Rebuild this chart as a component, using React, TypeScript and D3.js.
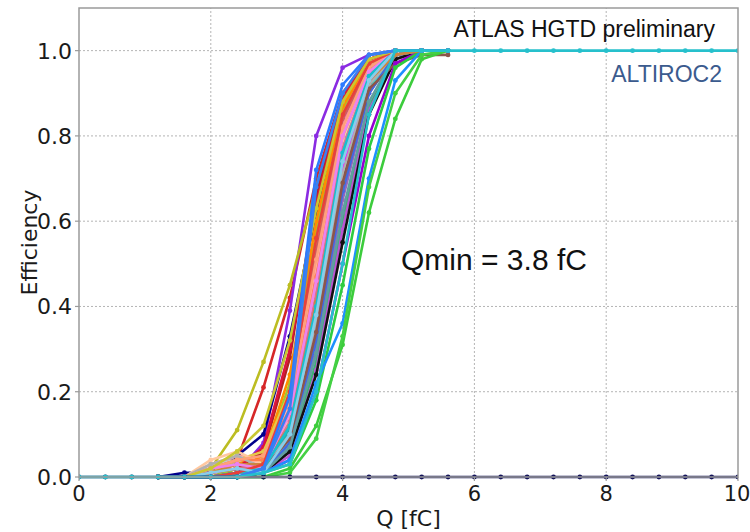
import React from 'react';
import * as d3 from 'd3';

// injected charge points (fC) for the turn-on region, and full scan for the two full channels
const chargeTurnOn = [1.2, 1.6, 2.0, 2.4, 2.8, 3.2, 3.6, 4.0, 4.4, 4.8, 5.2, 5.6];
const chargeFull = [0, 0.4, 0.8, 1.2, 1.6, 2.0, 2.4, 2.8, 3.2, 3.6, 4.0, 4.4, 4.8,
  5.2, 5.6, 6.0, 6.4, 6.8, 7.2, 7.6, 8.0, 8.4, 8.8, 9.2, 9.6, 10.0];

// efficiency per channel, read at chargeTurnOn
const channelEff: number[][] = [
  [0, 0, 0.01, 0.04, 0.21, 0.42, 0.7, 0.9, 0.98, 1, 1, 1],
  [0, 0, 0, 0.01, 0.08, 0.39, 0.8, 0.96, 0.99, 1, 1, 1],
  [0, 0, 0.02, 0.11, 0.27, 0.45, 0.68, 0.88, 0.97, 1, 1, 1],
  [0, 0.01, 0.01, 0.05, 0.1, 0.33, 0.62, 0.86, 0.97, 1, 1, 1],
  [0, 0, 0.02, 0.05, 0.04, 0.2, 0.5, 0.8, 0.95, 0.99, 1, 1],
  [0, 0, 0.03, 0.04, 0.02, 0.15, 0.47, 0.78, 0.95, 1, 1, 1],
  [0, 0, 0.01, 0.02, 0.03, 0.18, 0.52, 0.83, 0.96, 1, 1, 1],
  [0, 0, 0, 0.01, 0.02, 0.12, 0.44, 0.78, 0.95, 0.99, 1, 1],
  [0, 0, 0, 0.01, 0.02, 0.1, 0.35, 0.7, 0.92, 0.99, 1, 1],
  [0, 0, 0.02, 0.04, 0.05, 0.14, 0.4, 0.74, 0.93, 0.99, 1, 1],
  [0, 0, 0, 0.01, 0.01, 0.09, 0.38, 0.73, 0.93, 0.99, 1, 1],
  [0, 0, 0.01, 0.02, 0.02, 0.16, 0.49, 0.82, 0.96, 1, 1, 1],
  [0, 0, 0, 0.02, 0.06, 0.28, 0.66, 0.9, 0.98, 1, 1, 1],
  [0, 0, 0, 0.01, 0.01, 0.08, 0.33, 0.68, 0.91, 0.99, 1, 1],
  [0, 0, 0.02, 0.03, 0.03, 0.12, 0.42, 0.77, 0.94, 1, 1, 1],
  [0, 0, 0, 0.02, 0.04, 0.22, 0.58, 0.86, 0.97, 1, 1, 1],
  [0, 0, 0, 0.01, 0.01, 0.07, 0.3, 0.65, 0.9, 0.99, 1, 1],
  [0, 0, 0.03, 0.05, 0.03, 0.17, 0.5, 0.81, 0.96, 1, 1, 1],
  [0, 0, 0.01, 0.03, 0.05, 0.24, 0.6, 0.87, 0.97, 1, 1, 1],
  [0, 0, 0.02, 0.03, 0.02, 0.11, 0.4, 0.76, 0.94, 1, 1, 1],
  [0, 0, 0, 0.01, 0.02, 0.13, 0.45, 0.79, 0.95, 1, 1, 1],
  [0, 0, 0, 0, 0.01, 0.06, 0.27, 0.6, 0.87, 0.98, 1, 1],
  [0, 0, 0.01, 0.02, 0.07, 0.3, 0.64, 0.89, 0.98, 1, 1, 1],
  [0, 0, 0.01, 0.04, 0.06, 0.2, 0.55, 0.85, 0.97, 1, 1, 1],
  [0, 0, 0, 0.01, 0.02, 0.1, 0.37, 0.72, 0.93, 0.99, 1, 1],
  [0, 0, 0.04, 0.06, 0.03, 0.14, 0.44, 0.79, 0.95, 1, 1, 1],
  [0, 0, 0, 0, 0.01, 0.05, 0.25, 0.58, 0.86, 0.98, 1, 1],
  [0, 0, 0.01, 0.02, 0.03, 0.19, 0.53, 0.84, 0.96, 1, 1, 1],
  [0, 0, 0, 0.01, 0.02, 0.11, 0.39, 0.75, 0.94, 0.99, 1, 1],
  [0, 0, 0.02, 0.04, 0.04, 0.16, 0.47, 0.8, 0.95, 1, 1, 1],
  [0, 0, 0, 0, 0.01, 0.06, 0.24, 0.55, 0.85, 0.98, 1, 1],
  [0, 0, 0.03, 0.05, 0.02, 0.1, 0.36, 0.71, 0.92, 0.99, 1, 1],
  [0, 0, 0, 0.01, 0.01, 0.08, 0.32, 0.67, 0.9, 0.99, 1, 1],
  [0, 0, 0, 0.01, 0.02, 0.09, 0.34, 0.69, 0.91, 0.97, 0.99, 0.99],
  [0, 0, 0.01, 0.02, 0.02, 0.13, 0.43, 0.77, 0.94, 1, 1, 1],
  [0, 0, 0, 0, 0.01, 0.04, 0.2, 0.5, 0.8, 0.97, 1, 1],
  [0, 0, 0.02, 0.04, 0.05, 0.18, 0.51, 0.82, 0.96, 1, 1, 1],
  [0, 0, 0, 0.01, 0.01, 0.07, 0.29, 0.62, 0.88, 0.99, 1, 1],
  [0, 0, 0, 0, 0.01, 0.03, 0.18, 0.45, 0.77, 0.96, 1, 1],
  [0, 0, 0, 0, 0.01, 0.04, 0.22, 0.36, 0.7, 0.93, 1, 1],
  [0, 0, 0, 0, 0, 0.02, 0.12, 0.31, 0.62, 0.84, 0.98, 1],
  [0, 0, 0, 0, 0, 0.01, 0.09, 0.33, 0.68, 0.9, 0.99, 1],
  [0, 0, 0.01, 0.03, 0.03, 0.12, 0.41, 0.75, 0.93, 0.99, 1, 1],
  [0, 0, 0.02, 0.03, 0.02, 0.15, 0.46, 0.8, 0.95, 1, 1, 1],
  [0, 0, 0, 0.01, 0.02, 0.12, 0.4, 0.76, 0.94, 1, 1, 1],
  [0, 0, 0, 0.01, 0.03, 0.2, 0.56, 0.85, 0.97, 1, 1, 1],
  [0, 0, 0.01, 0.02, 0.01, 0.1, 0.38, 0.74, 0.93, 1, 1, 1],
  [0, 0, 0.02, 0.06, 0.12, 0.32, 0.63, 0.88, 0.98, 1, 1, 1],
  [0, 0, 0, 0, 0.02, 0.19, 0.72, 0.92, 0.99, 1, 1, 1],
  [0, 0, 0, 0, 0.02, 0.16, 0.68, 0.9, 0.99, 1, 1, 1],
];

const deadChannel = [0, 0, 0, 0, 0, 0, 0, 0, 0, 0, 0, 0, 0,
  0, 0, 0, 0, 0, 0, 0, 0, 0, 0, 0, 0, 0];
const lastChannel = [0, 0, 0, 0, 0, 0, 0, 0.01, 0.03, 0.2, 0.5, 0.85, 1,
  1, 1, 1, 1, 1, 1, 1, 1, 1, 1, 1, 1, 1];

const xTicks = [0, 2, 4, 6, 8, 10];
const yTicks = [0, 0.2, 0.4, 0.6, 0.8, 1.0];

const palette = [
  '#d62728', '#8a2be2', '#bcbd22', '#00008b', '#fa8072', '#c8c8c8', '#ff69b4', '#32cd32',
  '#000000', '#f4a460', '#6495ed', '#da70d6', '#b22222', '#40e0d0', '#d2b48c', '#9acd32',
  '#9467bd', '#ffb6c1', '#ff8c00', '#7f7f7f', '#00bfff', '#3cb371', '#dc143c', '#e6c84a',
  '#ff00ff', '#ffc8a0', '#ba55d3', '#cd5c5c', '#20b2aa', '#ff7f50', '#111111', '#b0b0b0',
  '#4169e1', '#8c564b', '#db7093', '#9400d3', '#ffa07a', '#5f9ea0', '#2ecc40', '#1e90ff',
  '#3ccc3c', '#44d044', '#cd853f', '#ee82ee', '#17becf', '#e8403a', '#87ceeb', '#c8c832',
  '#2b7bff', '#3a80f0',
];

const W = 750;
const H = 532;
const m = { left: 79, right: 12, top: 8, bottom: 55 };

export default function App() {
  const x = d3.scaleLinear().domain([0, 10]).range([m.left, W - m.right]);
  const y = d3.scaleLinear().domain([0, 1.1]).range([H - m.bottom, m.top]);
  const line = d3.line<[number, number]>().x(d => x(d[0])).y(d => y(d[1]));

  const series = channelEff.map((eff, i) => ({
    color: palette[i % palette.length],
    pts: eff.map((v, j) => [chargeTurnOn[j], v] as [number, number]),
  }));
  series.push({ color: '#14145a', pts: deadChannel.map((v, j) => [chargeFull[j], v] as [number, number]) });
  series.push({ color: '#26c0cc', pts: lastChannel.map((v, j) => [chargeFull[j], v] as [number, number]) });

  const tickFont = 'DejaVu Sans, sans-serif';
  const textFont = 'Liberation Sans, Arial, sans-serif';

  return (
    <svg width={W} height={H} style={{ position: 'absolute', left: 0, top: 0, background: '#fff' }}>
      <defs>
        <clipPath id="plot">
          <rect x={m.left} y={m.top} width={x(10) - m.left} height={y(0) - m.top + 3} />
        </clipPath>
      </defs>
      {/* grid */}
      <g stroke="#b4b4b4" strokeWidth={1} strokeDasharray="2,2">
        {xTicks.slice(1, -1).map(t => (
          <line key={'gx' + t} x1={x(t)} x2={x(t)} y1={y(0)} y2={m.top} />
        ))}
        {yTicks.slice(1).map(t => (
          <line key={'gy' + t} x1={m.left} x2={x(10)} y1={y(t)} y2={y(t)} />
        ))}
      </g>
      {/* curves */}
      <g clipPath="url(#plot)">
        {series.map((s, i) => (
          <g key={i}>
            <path d={line(s.pts) || ''} fill="none" stroke={s.color} strokeWidth={2.6} strokeLinejoin="round" />
            {s.pts.map((p, j) => (
              <circle key={j} cx={x(p[0])} cy={y(p[1])} r={2.4} fill={s.color} />
            ))}
          </g>
        ))}
      </g>
      {/* frame */}
      <rect x={m.left} y={m.top} width={x(10) - m.left} height={y(0) - m.top}
        fill="none" stroke="#9a9a9a" strokeWidth={1.5} />
      {/* ticks */}
      <g stroke="#9a9a9a" strokeWidth={1.2}>
        {yTicks.map(t => <line key={'ty' + t} x1={m.left - 4} x2={m.left} y1={y(t)} y2={y(t)} />)}
        {xTicks.map(t => <line key={'tx' + t} x1={x(t)} x2={x(t)} y1={y(0)} y2={y(0) + 4} />)}
      </g>
      <g fontFamily={tickFont} fontSize={22} fill="#1a1a1a">
        {yTicks.map(t => (
          <text key={'ly' + t} x={m.left - 7} y={y(t)} dy="0.36em" textAnchor="end">{t.toFixed(1)}</text>
        ))}
        {xTicks.map(t => (
          <text key={'lx' + t} x={t === 10 ? x(t) - 1 : x(t)} y={y(0) + 24} fontSize={21} textAnchor="middle">{t}</text>
        ))}
        <text x={(m.left + x(10)) / 2} y={H - 6} textAnchor="middle">Q [fC]</text>
        <text transform={`translate(37,${(m.top + y(0)) / 2}) rotate(-90)`} textAnchor="middle">Efficiency</text>
      </g>
      <g fontFamily={textFont}>
        <text x={715} y={37} fontSize={23} textAnchor="end" fill="#111">ATLAS HGTD preliminary</text>
        <text x={722} y={82} fontSize={23} textAnchor="end" fill="#3b5b8e">ALTIROC2</text>
        <text x={401} y={270} fontSize={30} fill="#111">Qmin = 3.8 fC</text>
      </g>
    </svg>
  );
}
